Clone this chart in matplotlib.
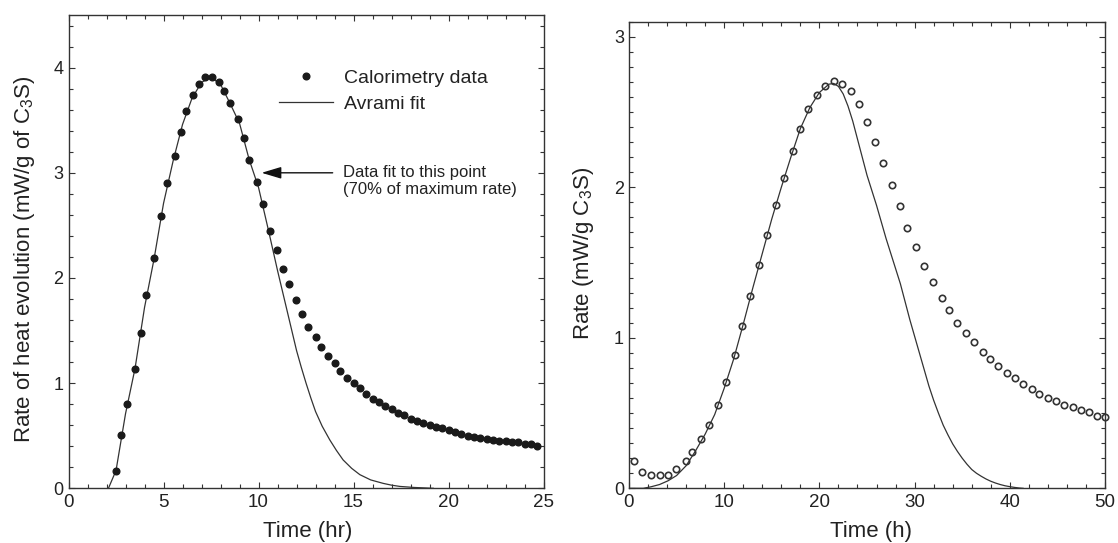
import matplotlib
matplotlib.use("Agg")
import matplotlib.pyplot as plt
from matplotlib.ticker import MultipleLocator

plt.rcParams["font.family"] = ["Liberation Sans", "DejaVu Sans"]
plt.rcParams["mathtext.fontset"] = "custom"
plt.rcParams["mathtext.rm"] = "Liberation Sans"
plt.rcParams["mathtext.default"] = "regular"

INK = "#222222"

# left panel: calorimetry data (hr, mW/g of C3S)
left_t = [2.49, 2.78, 3.10, 3.49, 3.81, 4.10, 4.51, 4.88, 5.18, 5.58, 5.90, 6.18,
          6.57, 6.88, 7.19, 7.53, 7.90, 8.20, 8.51, 8.91, 9.22, 9.52, 9.93, 10.23,
          10.62, 10.99, 11.28, 11.60, 11.99, 12.31, 12.62, 13.01, 13.31, 13.63, 14.01,
          14.31, 14.63, 15.02, 15.32, 15.63, 16.02, 16.32, 16.64, 17.02, 17.34, 17.66,
          18.03, 18.33, 18.64, 19.03, 19.33, 19.65, 20.03, 20.33, 20.65, 21.03, 21.34,
          21.65, 22.04, 22.34, 22.66, 23.04, 23.34, 23.66, 24.04, 24.35, 24.66]
left_rate = [0.16, 0.51, 0.80, 1.13, 1.48, 1.84, 2.19, 2.59, 2.90, 3.16, 3.39, 3.59,
             3.74, 3.84, 3.91, 3.91, 3.86, 3.78, 3.66, 3.51, 3.33, 3.12, 2.91, 2.70,
             2.45, 2.27, 2.09, 1.94, 1.79, 1.66, 1.53, 1.44, 1.34, 1.26, 1.19,
             1.12, 1.05, 1.00, 0.95, 0.90, 0.85, 0.82, 0.78, 0.75, 0.72, 0.70,
             0.66, 0.64, 0.62, 0.60, 0.58, 0.57, 0.55, 0.54, 0.52, 0.50, 0.49,
             0.48, 0.47, 0.46, 0.45, 0.45, 0.44, 0.44, 0.42, 0.42, 0.40]

# left panel: Avrami fit curve
left_fit_t = [2.10, 2.5, 3.0, 3.5, 4.0, 4.5, 5.0, 5.5, 6.0, 6.5, 7.0, 7.5, 8.0, 8.5,
              9.0, 9.5, 10.0, 10.5, 11.0, 11.5, 12.0, 12.25, 12.5, 12.75, 13.0, 13.35,
              13.75, 14.1, 14.45, 14.9, 15.33, 15.9, 16.56, 17.0, 17.44, 18.2, 18.85, 19.2]
left_fit_rate = [0.0, 0.17, 0.71, 1.14, 1.72, 2.18, 2.71, 3.11, 3.46, 3.71, 3.86, 3.91,
                 3.84, 3.66, 3.47, 3.13, 2.86, 2.47, 2.07, 1.69, 1.31, 1.15, 1.00, 0.86,
                 0.73, 0.59, 0.46, 0.36, 0.27, 0.19, 0.13, 0.08, 0.047, 0.03, 0.018,
                 0.008, 0.003, 0.0]

# right panel: calorimetry data (h, mW/g C3S)
right_t = [0.49, 1.38, 2.33, 3.21, 4.10, 4.98, 5.94, 6.64, 7.53, 8.44, 9.33, 10.21,
           11.09, 11.91, 12.76, 13.64, 14.53, 15.41, 16.29, 17.18, 17.95, 18.83, 19.76,
           20.60, 21.53, 22.38, 23.29, 24.18, 24.95, 25.83, 26.72, 27.60, 28.50, 29.25,
           30.12, 31.00, 31.92, 32.83, 33.57, 34.46, 35.35, 36.27, 37.15, 37.96, 38.74,
           39.66, 40.54, 41.42, 42.34, 43.09, 43.97, 44.86, 45.74, 46.59, 47.51, 48.28,
           49.16, 50.0]
right_rate = [0.184, 0.111, 0.089, 0.089, 0.089, 0.127, 0.184, 0.244, 0.327, 0.422,
              0.551, 0.709, 0.884, 1.077, 1.277, 1.482, 1.682, 1.884, 2.062, 2.242,
              2.384, 2.517, 2.611, 2.671, 2.707, 2.684, 2.637, 2.551, 2.433, 2.302,
              2.161, 2.017, 1.873, 1.731, 1.60, 1.48, 1.373, 1.267, 1.182, 1.10,
              1.029, 0.969, 0.909, 0.862, 0.815, 0.767, 0.731, 0.693, 0.66, 0.627,
              0.597, 0.577, 0.551, 0.542, 0.52, 0.504, 0.482, 0.471]

# right panel: Avrami fit curve
right_fit_t = [0, 1.5, 2.3, 3.2, 4.1, 5.0, 6.0, 7.0, 8.0, 9.0, 10.0, 11.0, 12.0, 13.0,
               14.0, 15.0, 16.0, 17.0, 18.0, 19.0, 20.0, 21.0, 21.5, 22.0, 22.5, 23.0,
               23.5, 24.0, 24.5, 25.0, 25.5, 26.0, 26.5, 27.0, 27.5, 28.0, 28.5, 29.0,
               29.5, 30.0, 30.5, 31.0, 31.5, 32.0, 32.5, 33.0, 33.5, 34.0, 34.5, 35.0,
               35.5, 36.0, 36.5, 37.0, 37.5, 38.0, 38.5, 39.0, 39.5, 40.0, 40.5, 41.0,
               41.4]
right_fit_rate = [0.0, 0.0, 0.01, 0.025, 0.05, 0.085, 0.15, 0.25, 0.36, 0.49, 0.665,
                  0.86, 1.09, 1.33, 1.56, 1.79, 2.00, 2.20, 2.39, 2.53, 2.63, 2.685,
                  2.69, 2.67, 2.62, 2.54, 2.44, 2.32, 2.20, 2.08, 1.98, 1.88, 1.77,
                  1.66, 1.56, 1.46, 1.36, 1.24, 1.12, 1.01, 0.90, 0.79, 0.68, 0.585,
                  0.50, 0.42, 0.355, 0.295, 0.245, 0.20, 0.16, 0.125, 0.10, 0.08,
                  0.062, 0.047, 0.035, 0.025, 0.017, 0.011, 0.006, 0.002, 0.0]


def style_axes(ax):
    for sp in ax.spines.values():
        sp.set_color("#333333")
        sp.set_linewidth(1.0)
    ax.tick_params(which="both", direction="in", top=True, right=True,
                   color="#333333", width=0.8)
    ax.tick_params(which="major", length=4.3)
    ax.tick_params(which="minor", length=2.6)
    ax.tick_params(axis="x", labelsize=13.5, pad=4, labelcolor=INK)
    ax.tick_params(axis="y", labelsize=13, pad=3.6, labelcolor=INK)


fig = plt.figure(figsize=(11.18, 5.43), dpi=100)
ax1 = fig.add_axes([0.0613, 0.1007, 0.4249, 0.8716])
ax2 = fig.add_axes([0.5626, 0.1007, 0.4258, 0.8593])

# left panel
ax1.plot(left_fit_t, left_fit_rate, color="#333333", lw=0.9, label="Avrami fit")
ax1.plot(left_t, left_rate, ls="none", marker="o", ms=4.8, color="#1a1a1a",
         label="Calorimetry data")
ax1.set_xlim(0, 25)
ax1.set_ylim(0, 4.5)
ax1.xaxis.set_major_locator(MultipleLocator(5))
ax1.xaxis.set_minor_locator(MultipleLocator(1))
ax1.yaxis.set_major_locator(MultipleLocator(1))
ax1.yaxis.set_minor_locator(MultipleLocator(0.2))
style_axes(ax1)
ax1.set_xlabel("Time (hr)", fontsize=16, color=INK)
ax1.set_ylabel("Rate of heat evolution (mW/g of C$_3$S)", fontsize=16, color=INK)
ax1.xaxis.set_label_coords(0.504, -0.068)
ax1.yaxis.set_label_coords(-0.066, 0.485)

handles, labels = ax1.get_legend_handles_labels()
ax1.legend(handles[::-1], labels[::-1], loc="upper left", bbox_to_anchor=(0.442, 0.886),
           frameon=False, fontsize=14, handlelength=2.8, handletextpad=0.57,
           labelspacing=0.45, borderpad=0, borderaxespad=0, labelcolor=INK)

ax1.annotate("", xy=(10.16, 3.0), xytext=(13.9, 3.0),
             arrowprops=dict(arrowstyle="-|>,head_length=1.0,head_width=0.3",
                             color="#111111", lw=1.0, shrinkA=0, shrinkB=0,
                             mutation_scale=12))
ax1.text(14.43, 2.925, "Data fit to this point\n(70% of maximum rate)", fontsize=12,
         ha="left", va="center", linespacing=1.15, color=INK)

# right panel
ax2.plot(right_fit_t, right_fit_rate, color="#333333", lw=0.9)
ax2.plot(right_t, right_rate, ls="none", marker="o", ms=4.6, mfc="none", mew=1.2,
         color="#333333", clip_on=False)
ax2.set_xlim(0, 50)
ax2.set_ylim(0, 3.1)
ax2.xaxis.set_major_locator(MultipleLocator(10))
ax2.xaxis.set_minor_locator(MultipleLocator(2))
ax2.yaxis.set_major_locator(MultipleLocator(1))
ax2.yaxis.set_minor_locator(MultipleLocator(0.1))
style_axes(ax2)
ax2.set_xlabel("Time (h)", fontsize=16, color=INK)
ax2.set_ylabel("Rate (mW/g C$_3$S)", fontsize=16, color=INK)
ax2.xaxis.set_label_coords(0.508, -0.07)
ax2.yaxis.set_label_coords(-0.07, 0.504)

fig.savefig("out.png", dpi=100)
plt.close(fig)
